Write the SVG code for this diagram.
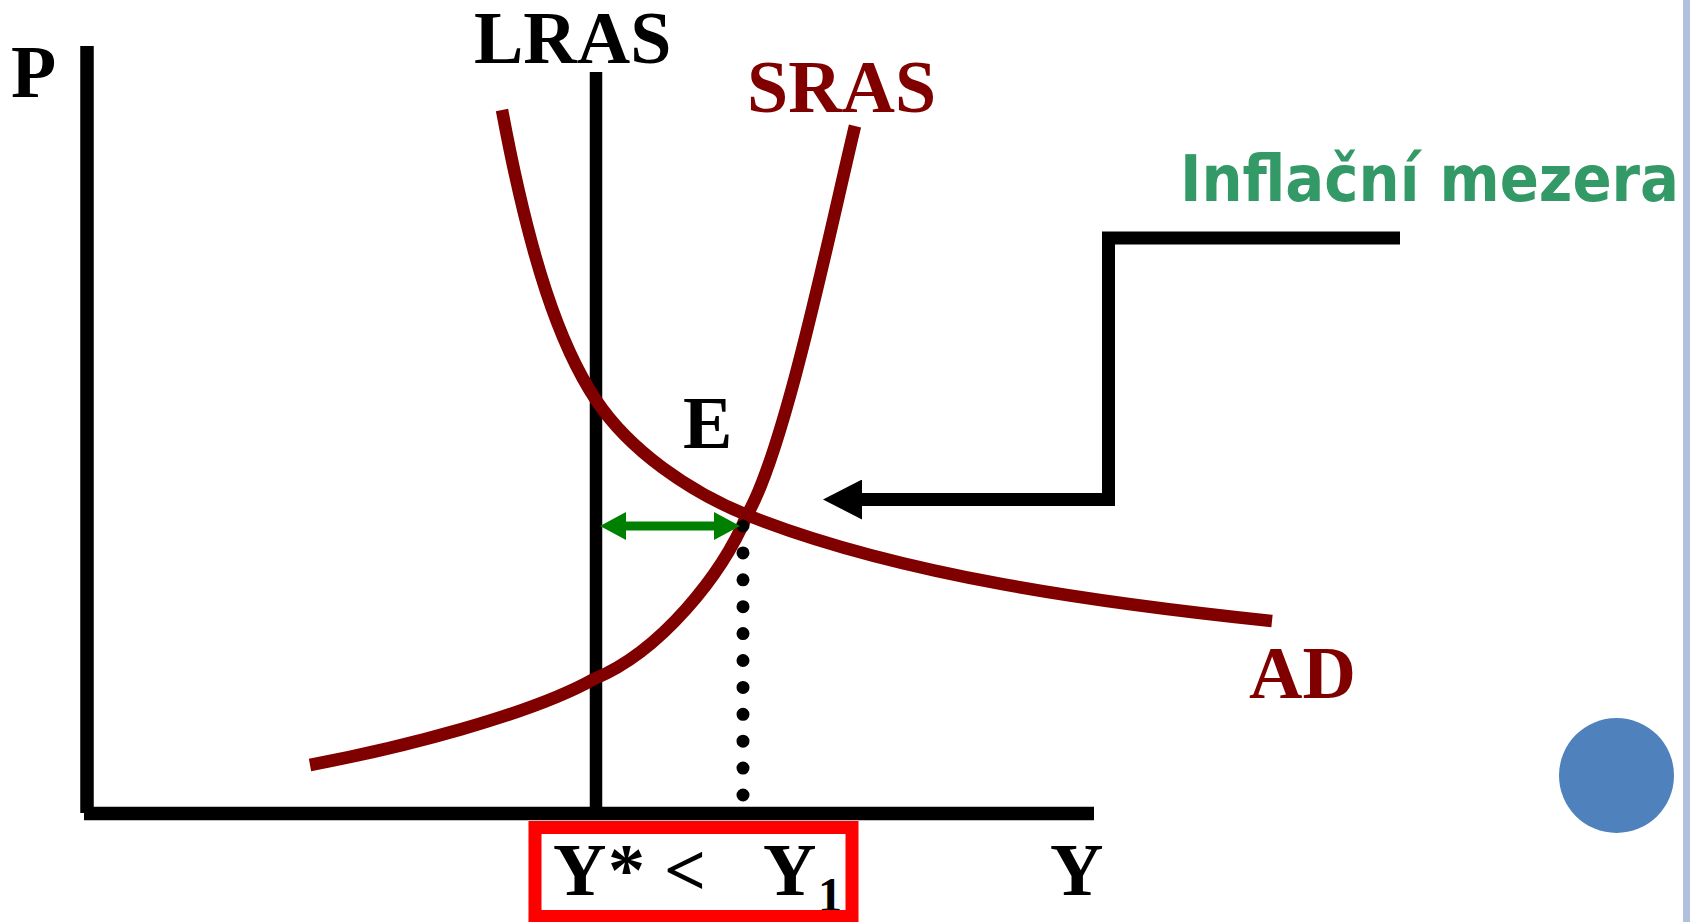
<svg xmlns="http://www.w3.org/2000/svg" width="1690" height="922" viewBox="0 0 1690 922">
  <style>
    .serif { font-family: "Liberation Serif", "Times New Roman", serif; font-weight: bold; font-size: 74px; }
    .blk { fill: #000000; }
    .red { fill: #800000; }
    .curve { fill: none; stroke: #800000; stroke-width: 12.5; stroke-linecap: butt; }
    .axis { fill: none; stroke: #000000; stroke-width: 13.5; }
  </style>
  <defs>
    <marker id="greenHead" viewBox="0 0 26 28" refX="6" refY="14" markerWidth="26" markerHeight="28" markerUnits="userSpaceOnUse" orient="auto-start-reverse">
      <path d="M0,0 L26,14 L0,28 Z" fill="#008000"/>
    </marker>
    <marker id="blackHead" viewBox="0 0 39 40" refX="7" refY="20" markerWidth="39" markerHeight="40" markerUnits="userSpaceOnUse" orient="auto">
      <path d="M0,0 L39,20 L0,40 Z" fill="#000000"/>
    </marker>
  </defs>
  <rect x="0" y="0" width="1690" height="922" fill="#ffffff"/>
  <rect x="1683" y="0" width="7" height="922" fill="#b0c1de"/>

  <g id="axes">
    <line class="axis" x1="87" y1="46" x2="87" y2="813"/>
    <line class="axis" x1="84" y1="813.5" x2="1094" y2="813.5"/>
    <text class="serif blk" x="11" y="97">P</text>
    <text class="serif blk" x="1050" y="895">Y</text>
  </g>

  <g id="lras">
    <line x1="596" y1="72" x2="596" y2="810" stroke="#000000" stroke-width="12.5"/>
    <text class="serif blk" x="474" y="63">LRAS</text>
  </g>

  <g id="ad">
    <path class="curve" d="M502,110 C530,260 560,346 596,400 C630,451 690,492 747,515 C900,576 1100,603 1272,621"/>
    <text class="serif red" x="1249" y="698">AD</text>
  </g>

  <g id="sras">
    <path class="curve" d="M310,765 C400,748 530,715 594,679 C660,652 722,575 747,515 C785,450 830,230 855,126"/>
    <text class="serif red" x="747" y="112">SRAS</text>
  </g>

  <g id="equilibrium">
    <text class="serif blk" x="683" y="448">E</text>
  </g>

  <g id="connectors">
    <line x1="743" y1="526" x2="743" y2="795" stroke="#000000" stroke-width="13" stroke-linecap="round" stroke-dasharray="0 26.9"/>
    <line x1="620" y1="526" x2="720" y2="526" stroke="#008000" stroke-width="9" marker-start="url(#greenHead)" marker-end="url(#greenHead)"/>
    <path d="M1400,238 H1108.5 V499.5 H855" fill="none" stroke="#000000" stroke-width="13" stroke-linejoin="miter" marker-end="url(#blackHead)"/>
  </g>

  <g id="gap-label">
    <text x="1180" y="201" font-family="DejaVu Sans Condensed, DejaVu Sans, sans-serif" font-weight="bold" font-size="64" fill="#339966" textLength="499" lengthAdjust="spacingAndGlyphs">Inflační mezera</text>
  </g>

  <g id="output-box">
    <text class="serif blk" x="553" y="895">Y</text>
    <text class="serif blk" x="608" y="895">*</text>
    <text class="serif blk" x="664" y="895">&lt;</text>
    <text class="serif blk" x="763" y="895">Y</text>
    <text class="blk" x="818" y="911" font-family="Liberation Serif, Times New Roman, serif" font-weight="bold" font-size="48">1</text>
    <rect x="535" y="827.5" width="317" height="89" fill="none" stroke="#ff0000" stroke-width="13"/>
  </g>

  <g id="marker-dot">
    <circle cx="1616.5" cy="775.5" r="57.5" fill="#4f81bd"/>
  </g>
</svg>
